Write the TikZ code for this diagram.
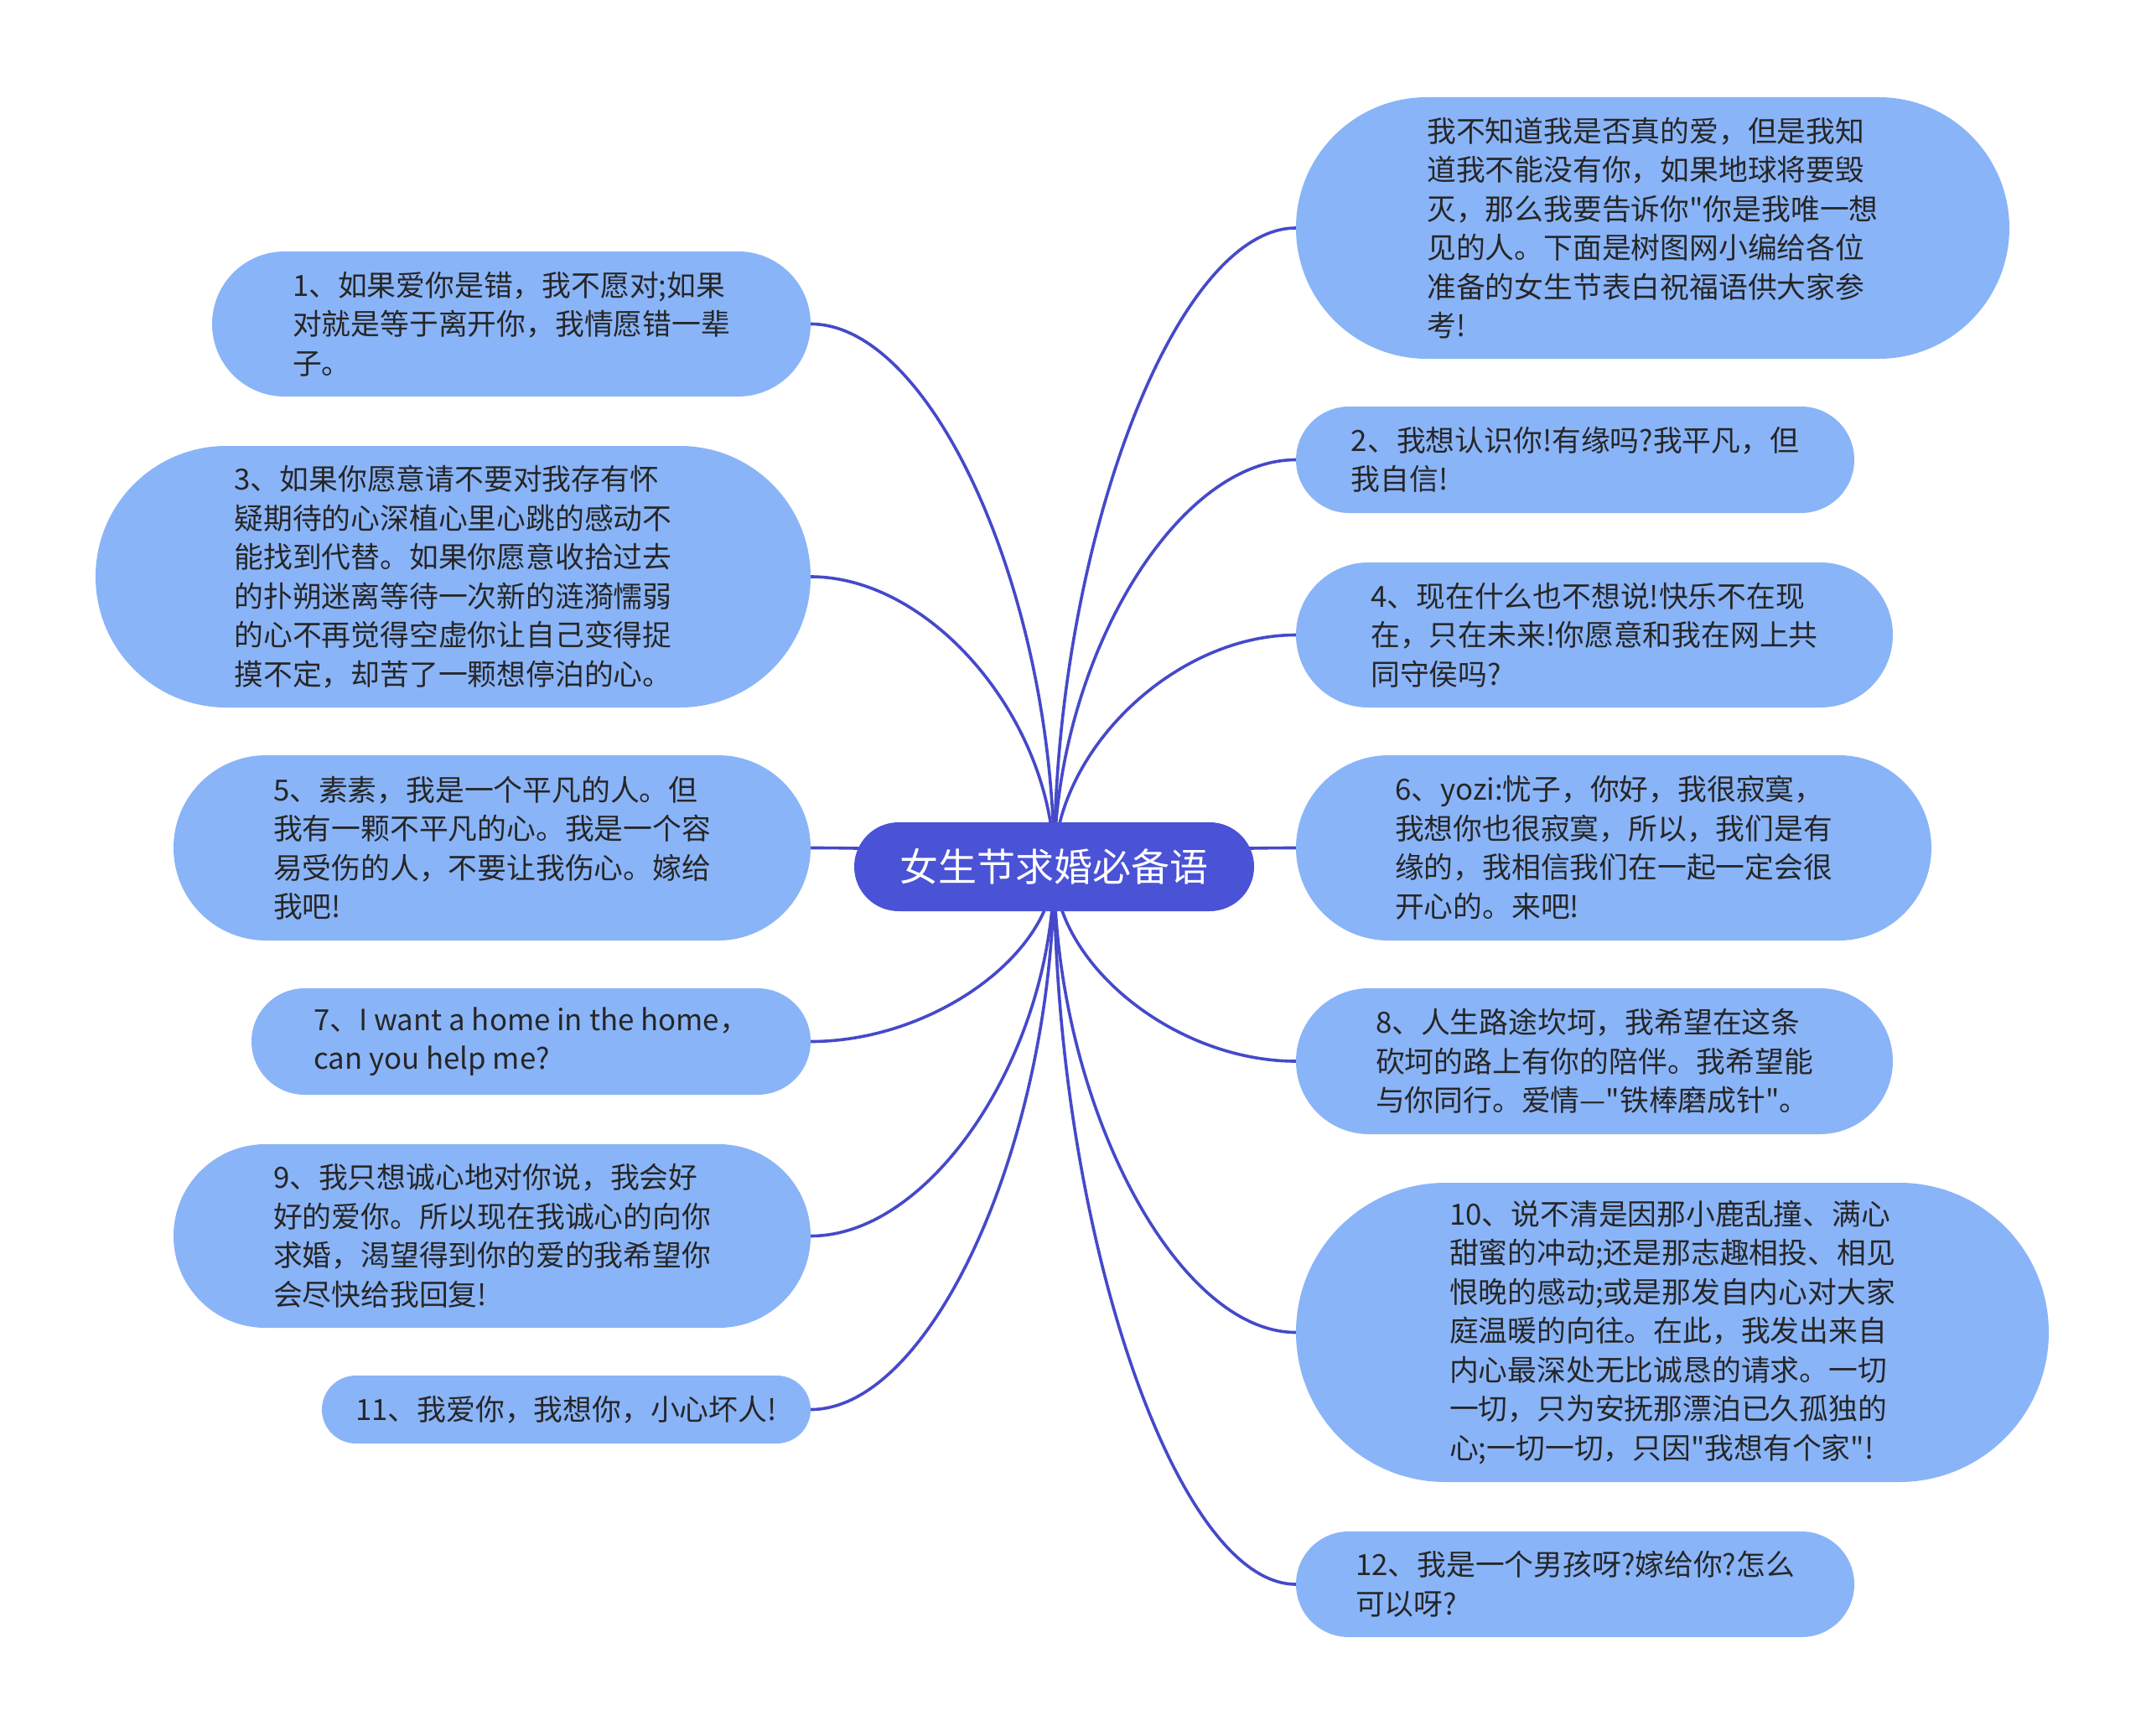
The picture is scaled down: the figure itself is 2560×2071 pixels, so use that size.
\documentclass[tikz,border=0pt]{standalone}
\usepackage{fontspec}
\setmainfont{Noto Sans CJK SC}
\newfontfamily\cjkplain{Noto Sans CJK SC}
\usetikzlibrary{shapes.misc,backgrounds,calc}
\definecolor{leaffill}{RGB}{138,180,248}
\definecolor{rootfill}{RGB}{74,82,214}
\definecolor{linkc}{RGB}{69,73,201}
\definecolor{txt}{RGB}{38,38,38}
\tikzset{
  leaf/.style={rounded rectangle, fill=leaffill, draw=none, inner sep=0pt, align=left, text=txt,
    font=\cjkplain\fontsize{34.8pt}{46.5pt}\selectfont},
  rootnode/.style={rounded rectangle, fill=rootfill, draw=none, inner sep=0pt, text=white,
    font=\cjkplain\fontsize{46pt}{55pt}\selectfont},
  conn/.style={draw=linkc, line width=3.6pt}
}
\newcommand\mmlink[2]{\draw[conn] let \p1=(#1), \p2=(#2) in (\p1) .. controls (\x1,{0.5*\y1+0.5*\y2}) and ({0.5*\x1+0.5*\x2},\y2) .. (\p2);}
\begin{document}
\begin{tikzpicture}[x=1pt,y=-1pt]
\useasboundingbox (0,0) rectangle (2560,2071);

\node[rootnode, minimum width=477pt, minimum height=106pt] (c) at (1257.5,1034) {女生节求婚必备语};

% left
\node[leaf, minimum width=714pt, minimum height=173pt] (n1) at (610,386.5)
 {1、如果爱你是错，我不愿对;如果\\对就是等于离开你，我情愿错一辈\\子。};
\node[leaf, minimum width=853pt, minimum height=312pt] (n3) at (540.5,688)
 {3、如果你愿意请不要对我存有怀\\疑期待的心深植心里心跳的感动不\\能找到代替。如果你愿意收拾过去\\的扑朔迷离等待一次新的涟漪懦弱\\的心不再觉得空虚你让自己变得捉\\摸不定，却苦了一颗想停泊的心。};
\node[leaf, minimum width=760pt, minimum height=221pt] (n5) at (587,1011.5)
 {5、素素，我是一个平凡的人。但\\我有一颗不平凡的心。我是一个容\\易受伤的人，不要让我伤心。嫁给\\我吧!};
\node[leaf, minimum width=667pt, minimum height=127pt] (n7) at (633.5,1242.5)
 {7、I want a home in the home，\\can you help me?};
\node[leaf, minimum width=760pt, minimum height=219pt] (n9) at (587,1474.5)
 {9、我只想诚心地对你说，我会好\\好的爱你。所以现在我诚心的向你\\求婚，渴望得到你的爱的我希望你\\会尽快给我回复!};
\node[leaf, minimum width=583pt, minimum height=81pt] (n11) at (675.5,1681.5)
 {11、我爱你，我想你，小心坏人!};

% right
\node[leaf, minimum width=851pt, minimum height=312pt] (n0) at (1971.5,272)
 {我不知道我是否真的爱，但是我知\\道我不能没有你，如果地球将要毁\\灭，那么我要告诉你"你是我唯一想\\见的人。下面是树图网小编给各位\\准备的女生节表白祝福语供大家参\\考!};
\node[leaf, minimum width=666pt, minimum height=127pt] (n2) at (1879,548.5)
 {2、我想认识你!有缘吗?我平凡，但\\我自信!};
\node[leaf, minimum width=712pt, minimum height=173pt] (n4) at (1902,757.5)
 {4、现在什么也不想说!快乐不在现\\在，只在未来!你愿意和我在网上共\\同守侯吗?};
\node[leaf, minimum width=758pt, minimum height=221pt] (n6) at (1925,1011.5)
 {6、yozi:忧子，你好，我很寂寞，\\我想你也很寂寞，所以，我们是有\\缘的，我相信我们在一起一定会很\\开心的。来吧!};
\node[leaf, minimum width=712pt, minimum height=174pt] (n8) at (1902,1266)
 {8、人生路途坎坷，我希望在这条\\砍坷的路上有你的陪伴。我希望能\\与你同行。爱情—"铁棒磨成针"。};
\node[leaf, minimum width=898pt, minimum height=357pt] (n10) at (1995,1589.5)
 {10、说不清是因那小鹿乱撞、满心\\甜蜜的冲动;还是那志趣相投、相见\\恨晚的感动;或是那发自内心对大家\\庭温暖的向往。在此，我发出来自\\内心最深处无比诚恳的请求。一切\\一切，只为安抚那漂泊已久孤独的\\心;一切一切，只因"我想有个家"!};
\node[leaf, minimum width=666pt, minimum height=126pt] (n12) at (1879,1890)
 {12、我是一个男孩呀?嫁给你?怎么\\可以呀?};

\begin{pgfonlayer}{background}
\fill[white] (0,0) rectangle (2560,2071);
\mmlink{c.center}{n1.east}
\mmlink{c.center}{n3.east}
\mmlink{c.center}{n5.east}
\mmlink{c.center}{n7.east}
\mmlink{c.center}{n9.east}
\mmlink{c.center}{n11.east}
\mmlink{c.center}{n0.west}
\mmlink{c.center}{n2.west}
\mmlink{c.center}{n4.west}
\mmlink{c.center}{n6.west}
\mmlink{c.center}{n8.west}
\mmlink{c.center}{n10.west}
\mmlink{c.center}{n12.west}
\end{pgfonlayer}
\end{tikzpicture}
\end{document}
